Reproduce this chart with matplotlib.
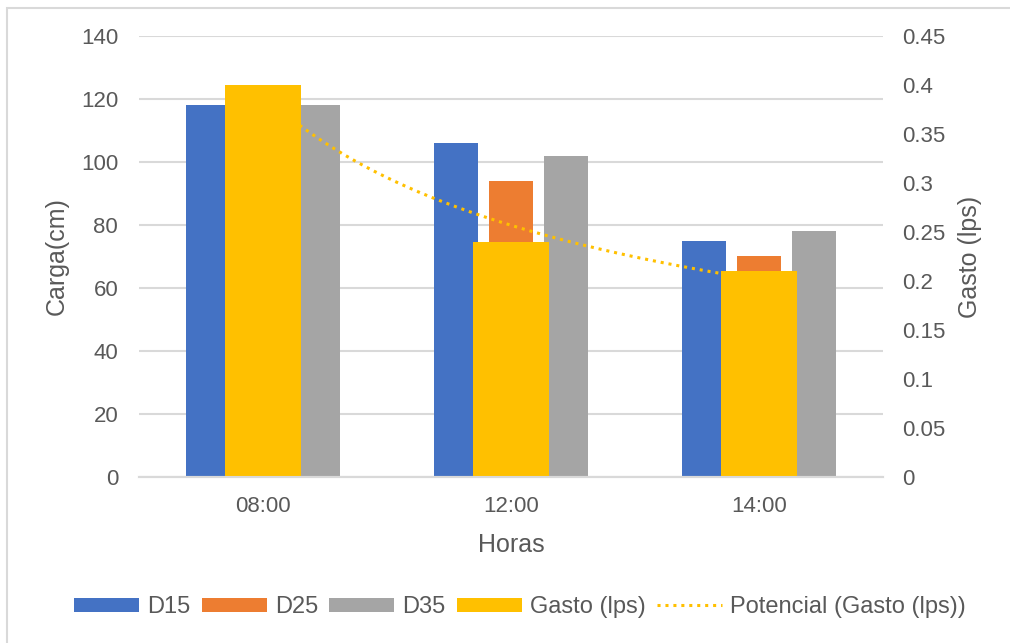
import numpy as np
import matplotlib
matplotlib.use("Agg")
import matplotlib.pyplot as plt
from matplotlib.patches import Rectangle
from matplotlib.ticker import FuncFormatter

plt.rcParams['font.family'] = ['Liberation Sans', 'DejaVu Sans']

horas = ["08:00", "12:00", "14:00"]
d15 = [118, 106, 75]
d25 = [110, 94, 70]
d35 = [118, 102, 78]
gasto = [0.40, 0.24, 0.21]

txt = '#595959'
grid = '#D9D9D9'

fig = plt.figure(figsize=(10.1, 6.43), dpi=100)
ax = fig.add_axes([0.1376, 0.2582, 0.7366, 0.6858])
ax2 = ax.twinx()

x = np.arange(1, len(horas) + 1)
w = 0.177
step = 0.222
ax.bar(x - step, d15, w, color='#4472C4', label='D15', zorder=2)
ax.bar(x, d25, w, color='#ED7D31', label='D25', zorder=2)
ax.bar(x + step, d35, w, color='#A5A5A5', label='D35', zorder=2)

# power trendline y = a * x^b fitted on the Gasto series
b, lna = np.polyfit(np.log(x), np.log(gasto), 1)
xt = np.linspace(1, 3, 200)
ax2.plot(xt, np.exp(lna) * xt ** b, linestyle=(0, (1, 1.6)), color='#FFC000',
         lw=2.2, label='Potencial (Gasto (lps))', zorder=1)
ax2.bar(x, gasto, 0.31, color='#FFC000', label='Gasto (lps)', zorder=2)

ax.set_xlim(0.5, 3.5)
ax.set_ylim(0, 140)
ax.set_yticks(range(0, 141, 20))
ax2.set_ylim(0, 0.45)
ax2.set_yticks(np.arange(0, 0.451, 0.05))
ax2.yaxis.set_major_formatter(FuncFormatter(lambda v, p: '%g' % round(v, 2)))
ax.set_xticks(x)
ax.set_xticklabels(horas)

ax.grid(axis='y', color=grid, lw=1.5, zorder=0)
ax.set_axisbelow(True)
for a in (ax, ax2):
    for s in ('top', 'left', 'right'):
        a.spines[s].set_visible(False)
    a.spines['bottom'].set_color(grid)
    a.spines['bottom'].set_linewidth(1.5)
    a.tick_params(length=0, labelsize=16, labelcolor=txt)
ax.tick_params(axis='y', pad=15)
ax2.tick_params(axis='y', pad=14)
ax.tick_params(axis='x', pad=14)

ax.set_ylabel('Carga(cm)', fontsize=18, color=txt, labelpad=9)
ax2.set_ylabel('Gasto (lps)', fontsize=18, color=txt, labelpad=9)
ax.set_xlabel('Horas', fontsize=18, color=txt, labelpad=11)

h1, l1 = ax.get_legend_handles_labels()
h2, l2 = ax2.get_legend_handles_labels()
order = [1, 0]
handles = h1 + [h2[i] for i in order]
labels = l1 + [l2[i] for i in order]
fig.legend(handles, labels, loc='center', bbox_to_anchor=(0.515, 0.056), ncol=5,
           frameon=False, fontsize=17, labelcolor=txt, handlelength=2.75,
           handleheight=0.55, handletextpad=0.35, columnspacing=0.47)

fig.patches.append(Rectangle((7 / 1010, -0.05), 1.1, 1 - 8 / 643 + 0.05,
                             transform=fig.transFigure, fill=False,
                             edgecolor=grid, lw=1.5))

fig.savefig('out.png', dpi=100)
